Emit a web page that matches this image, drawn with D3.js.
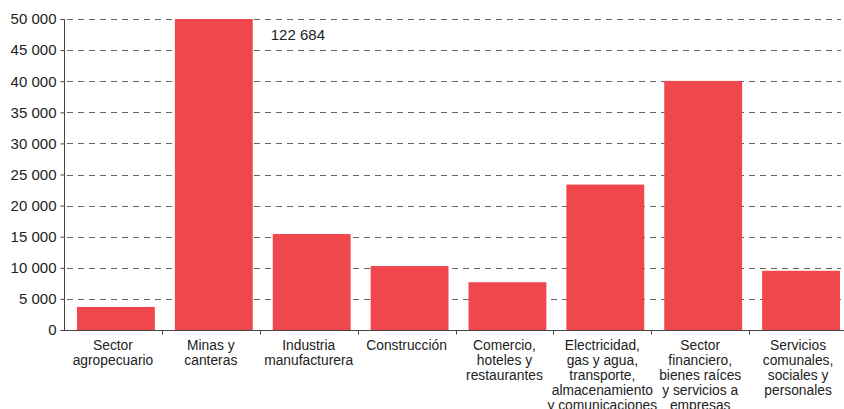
<!DOCTYPE html>
<html><head><meta charset="utf-8">
<script src="https://cdn.jsdelivr.net/npm/d3@7"></script>
<style>
html,body{margin:0;padding:0;background:#fff;}
svg{display:block;font-family:"Liberation Sans",Arial,Helvetica,sans-serif;}
</style></head>
<body>
<svg id="chart" width="844" height="409"></svg>
<script>
const categories = [
  ["Sector","agropecuario"],
  ["Minas y","canteras"],
  ["Industria","manufacturera"],
  ["Construcción"],
  ["Comercio,","hoteles y","restaurantes"],
  ["Electricidad,","gas y agua,","transporte,","almacenamiento","y comunicaciones"],
  ["Sector","financiero,","bienes raíces","y servicios a","empresas"],
  ["Servicios","comunales,","sociales y","personales"]
];
const values = [3700, 122684, 15430, 10280, 7680, 23380, 40050, 9520];
const yTicks = [0,5000,10000,15000,20000,25000,30000,35000,40000,45000,50000];
const overflowLabel = "122 684";

(function(){
const svg = d3.select("#chart");
const mLeft = 64, mRight = 847, mTop = 19, mBottom = 330;
const loc = d3.formatLocale({decimal:",", thousands:" ", grouping:[3], currency:["",""]});
const fmt = loc.format(",d");

const x = d3.scaleBand().domain(d3.range(categories.length)).range([mLeft, mRight]).padding(0);
const y = d3.scaleLinear().domain([0, 50000]).range([mBottom, mTop]);

// gridlines
svg.append("g").selectAll("line").data(yTicks.filter(d => d > 0)).join("line")
  .attr("x1", mLeft + 3).attr("x2", 841)
  .attr("y1", d => Math.round(y(d)) + 0.5).attr("y2", d => Math.round(y(d)) + 0.5)
  .attr("stroke", "#666").attr("stroke-width", 1).attr("stroke-dasharray", "6,5");

// bars
const bw = x.bandwidth();
svg.append("g").selectAll("rect").data(values).join("rect")
  .attr("x", (d, i) => x(i) + 13)
  .attr("width", bw - 20)
  .attr("y", d => y(Math.min(d, 50000)))
  .attr("height", d => mBottom - y(Math.min(d, 50000)))
  .attr("fill", "#ef474b");

// overflow label
svg.append("text").attr("x", x(1) + bw + 11).attr("y", 40)
  .attr("font-size", 15).attr("fill", "#222").text(overflowLabel);

// y axis
const yAxis = d3.axisLeft(y).tickValues(yTicks).tickFormat(fmt).tickSize(4).tickPadding(4);
const ga = svg.append("g").attr("transform", `translate(${mLeft + 0.5},0)`).call(yAxis);
ga.select(".domain").attr("stroke", "#444").attr("d", `M-4,${mTop}.5H0V${mBottom}.5H-4`);
ga.selectAll(".tick line").attr("stroke", "#444");
ga.selectAll(".tick text").attr("font-size", 15).attr("fill", "#222")
  .attr("font-family", '"Liberation Sans",Arial,sans-serif');

// x axis
const gx = svg.append("g").attr("transform", `translate(0,${mBottom + 0.5})`);
gx.append("line").attr("x1", mLeft).attr("x2", 844).attr("y1", 0).attr("y2", 0)
  .attr("stroke", "#444").attr("stroke-width", 1);
gx.selectAll(".tk").data(d3.range(1, categories.length)).join("line").attr("class","tk")
  .attr("x1", i => Math.round(x(i)) + 0.5).attr("x2", i => Math.round(x(i)) + 0.5)
  .attr("y1", 0).attr("y2", 4).attr("stroke", "#444");
gx.selectAll("text").data(categories).join("text")
  .attr("text-anchor", "middle").attr("font-size", 13.8).attr("fill", "#222")
  .attr("transform", (d, i) => `translate(${x(i) + bw / 2},19)`)
  .each(function(lines) {
    const t = d3.select(this);
    lines.forEach((l, k) => t.append("tspan").attr("x", 0).attr("y", k * 15).text(l));
  });
})();
</script>
</body></html>
